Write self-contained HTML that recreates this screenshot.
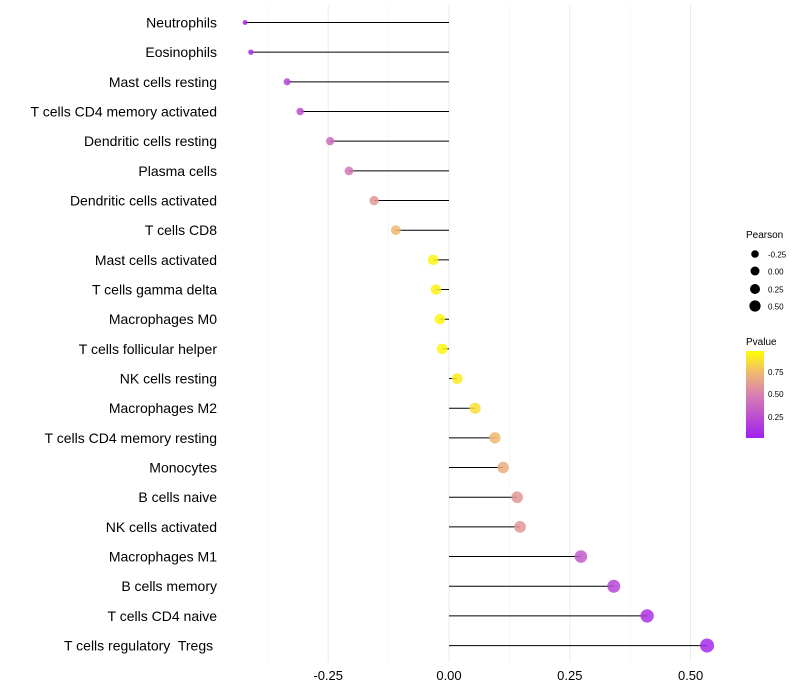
<!DOCTYPE html>
<html><head><meta charset="utf-8"><style>
body{margin:0;background:#fff;font-family:"Liberation Sans",sans-serif}
svg{display:block}
#ylabels text{white-space:pre}
</style></head><body>
<svg id="chart" width="800" height="700" font-family="Liberation Sans, sans-serif">
<g id="grid"></g>
<g id="ylabels"></g>
<g id="xlabels"></g>
<g id="marks"></g>
<g>
<text x="746" y="238" font-size="10" fill="#000">Pearson</text>
<circle cx="755" cy="254" r="3.8" fill="#000"/><text x="768" y="257.5" font-size="8" fill="#000">-0.25</text>
<circle cx="755" cy="271" r="4.5" fill="#000"/><text x="768" y="274.5" font-size="8" fill="#000">0.00</text>
<circle cx="755" cy="289" r="5" fill="#000"/><text x="768" y="292.5" font-size="8" fill="#000">0.25</text>
<circle cx="755" cy="306" r="5.6" fill="#000"/><text x="768" y="309.5" font-size="8" fill="#000">0.50</text>
</g>
<g>
<defs><linearGradient id="pg" x1="0" y1="1" x2="0" y2="0">
<stop offset="0" stop-color="#a020f0"/><stop offset="0.5" stop-color="#d880b0"/><stop offset="0.75" stop-color="#f0b870"/><stop offset="1" stop-color="#ffff00"/></linearGradient></defs>
<text x="746" y="345" font-size="10" fill="#000">Pvalue</text>
<rect x="746" y="351" width="18" height="87" fill="url(#pg)"/>
<text x="768" y="375" font-size="8" fill="#000">0.75</text>
<text x="768" y="397" font-size="8" fill="#000">0.50</text>
<text x="768" y="420" font-size="8" fill="#000">0.25</text>
</g>
</svg>
<script>
const categories=["Neutrophils","Eosinophils","Mast cells resting","T cells CD4 memory activated","Dendritic cells resting","Plasma cells","Dendritic cells activated","T cells CD8","Mast cells activated","T cells gamma delta","Macrophages M0","T cells follicular helper","NK cells resting","Macrophages M2","T cells CD4 memory resting","Monocytes","B cells naive","NK cells activated","Macrophages M1","B cells memory","T cells CD4 naive","T cells regulatory  Tregs "];
const pearson=[-0.422,-0.41,-0.335,-0.308,-0.246,-0.207,-0.155,-0.11,-0.033,-0.027,-0.019,-0.014,0.017,0.054,0.095,0.112,0.141,0.147,0.273,0.341,0.41,0.534];
const pvalue=[0.05,0.07,0.2,0.25,0.4,0.45,0.6,0.75,0.96,0.95,0.97,0.97,0.93,0.88,0.75,0.7,0.6,0.6,0.3,0.2,0.1,0.05];
const xTicks=[-0.25,0,0.25,0.5];
const xTickLabels=["-0.25","0.00","0.25","0.50"];
const NS="http://www.w3.org/2000/svg";
const x=v=>449+v*483.2;
const y=i=>22.5+i*29.67;
const r=v=>2+5*Math.sqrt(Math.max(0,(v+0.43)/0.96));
function lerp(a,b,t){return a.map((c,k)=>Math.round(c+(b[k]-c)*t));}
function color(p){const st=[[0,[160,32,240]],[0.5,[216,128,176]],[0.75,[240,184,112]],[1,[255,255,0]]];
for(let k=1;k<st.length;k++){if(p<=st[k][0]){const t=(p-st[k-1][0])/(st[k][0]-st[k-1][0]);const c=lerp(st[k-1][1],st[k][1],t);return `rgb(${c})`;}}return "rgb(255,255,0)";}
function mk(tag,attrs,parent){const e=document.createElementNS(NS,tag);for(const k in attrs)e.setAttribute(k,attrs[k]);parent.appendChild(e);return e;}
const grid=document.getElementById('grid'),yl=document.getElementById('ylabels'),xl=document.getElementById('xlabels'),marks=document.getElementById('marks');
[-0.375,-0.125,0.125,0.375].forEach(v=>{const l=mk('line',{x1:x(v),x2:x(v),y1:5,y2:662,stroke:'#f2f2f2','stroke-width':0.6},grid);

});
xTicks.forEach((v,i)=>{const l=mk('line',{x1:x(v),x2:x(v),y1:5,y2:662,stroke:'#ebebeb','stroke-width':1},grid);


const t=mk('text',{x:x(v),y:680,'font-size':13,'text-anchor':'middle',fill:'#000'},xl);t.textContent=xTickLabels[i];

});
categories.forEach((c,i)=>{const t=mk('text',{x:217,y:y(i)+5,'font-size':14,'text-anchor':'end',fill:'#000'},yl);t.textContent=c;


const l=mk('line',{x1:x(0),x2:x(pearson[i]),y1:y(i),y2:y(i),stroke:'#000','stroke-width':1},marks);


const d=mk('circle',{cx:x(pearson[i]),cy:y(i),r:r(pearson[i]),fill:color(pvalue[i]),'fill-opacity':0.85},marks);

});
</script>
</body></html>
